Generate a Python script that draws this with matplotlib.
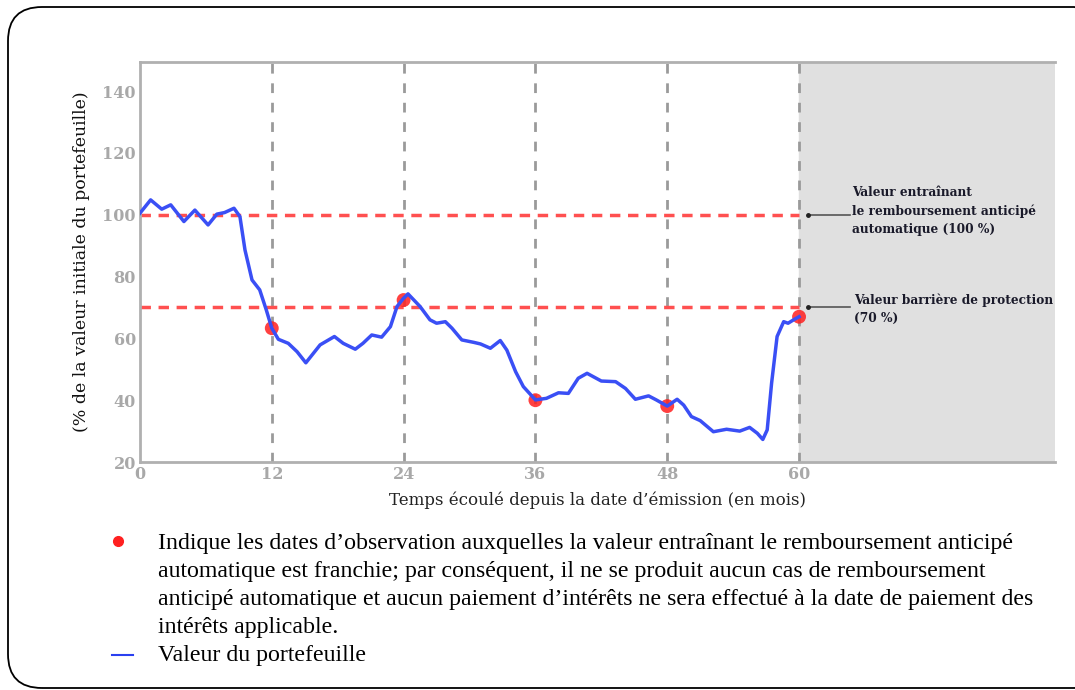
import numpy as np
import matplotlib.pyplot as plt
from matplotlib.patches import FancyBboxPatch
from matplotlib.lines import Line2D

# valeur du portefeuille
mois = [0, 0.97, 1.98, 2.8, 4.0, 5.0, 6.2, 7.0, 7.7, 8.56, 9.1, 9.56, 10.2, 10.9, 11.5,
        12.0, 12.6, 13.5, 14.3, 15.1, 16.4, 17.7, 18.5, 19.6, 20.3, 21.1, 22.0, 22.8,
        23.4, 24.0, 24.4, 25.5, 26.4, 27.0, 27.8, 28.4, 29.3, 30.4, 31.0, 31.9, 32.8,
        33.4, 34.2, 34.9, 36.0, 37.0, 38.1, 39.0, 39.9, 40.7, 42.0, 43.3, 44.2, 45.1,
        46.3, 47.0, 48.0, 48.9, 49.5, 50.2, 51.0, 52.2, 53.4, 54.6, 55.5, 56.2, 56.7,
        57.1, 57.5, 58.0, 58.6, 59.0, 59.5, 60.0]
valeur = [100.5, 104.8, 101.8, 103.2, 97.8, 101.5, 96.7, 100.2, 100.7, 102.1, 99.4, 88.6,
          78.9, 75.7, 69.2, 63.3, 59.7, 58.4, 55.7, 52.1, 57.9, 60.6, 58.4, 56.5, 58.4,
          61.1, 60.4, 63.8, 70.3, 73.0, 74.4, 70.3, 66.0, 64.9, 65.4, 63.3, 59.5, 58.7,
          58.2, 56.8, 59.3, 56.2, 49.2, 44.4, 40.1, 40.6, 42.4, 42.2, 47.1, 48.7, 46.2,
          46.0, 43.8, 40.3, 41.4, 40.1, 38.1, 40.3, 38.4, 34.7, 33.4, 29.8, 30.6, 30.0,
          31.2, 29.3, 27.3, 30.4, 45.5, 60.6, 65.4, 64.9, 66.0, 67.0]

# dates d'observation
obs_mois = [12, 24, 36, 48, 60]
obs_val = [63.3, 72.4, 40.0, 38.1, 67.0]

seuil_rembt = 100
barriere = 70

fig = plt.figure(figsize=(10.75, 6.9), dpi=100)

# cadre arrondi (en pixels)
cadre = FancyBboxPatch((8, 2), 1100, 681, boxstyle="round,pad=0,rounding_size=34",
                       transform=None, fill=False, ec="black", lw=1.3)
fig.patches.append(cadre)

ax = fig.add_axes([0.1302, 0.3304, 0.8512, 0.5797])
ax.set_xlim(0, 83.3)
ax.set_ylim(20, 149.4)

ax.axvspan(60, 83.3, color="#e0e0e0", zorder=0)

for m in obs_mois:
    ax.axvline(m, color="#9a9a9a", ls=(0, (3.5, 3.5)), lw=2, zorder=1)

ax.plot([0, 60], [seuil_rembt, seuil_rembt], color="#ff5050", ls=(0, (3, 2.2)), lw=2.5, zorder=2)
ax.plot([0, 60], [barriere, barriere], color="#ff5050", ls=(0, (3, 2.2)), lw=2.5, zorder=2)

ax.scatter(obs_mois, obs_val, s=100, color="#ff2020", alpha=0.85, zorder=3, edgecolors="none")
ax.plot(mois, valeur, color="#3a4ff5", lw=2.5, zorder=4, solid_joinstyle="round")

for s in ["top", "left", "bottom"]:
    ax.spines[s].set_color("#b0b0b0")
    ax.spines[s].set_linewidth(2)
ax.spines["right"].set_visible(False)

ax.set_xticks([0, 12, 24, 36, 48, 60])
ax.set_yticks([20, 40, 60, 80, 100, 120, 140])
ax.tick_params(length=0, pad=3, labelcolor="#a8a8a8", labelsize=11.5)
for lab in ax.get_xticklabels() + ax.get_yticklabels():
    lab.set_family("DejaVu Serif")
    lab.set_fontweight("bold")

ax.set_xlabel("Temps écoulé depuis la date d’émission (en mois)", family="DejaVu Serif",
              fontsize=12, color="#222222", labelpad=6)
ax.set_ylabel("(% de la valeur initiale du portefeuille)", family="DejaVu Serif",
              fontsize=12.5, color="#111111", labelpad=9)

# annotations
for yv, txt, tx, ty in [(seuil_rembt, "Valeur entraînant\nle remboursement anticipé\nautomatique (100 %)", 64.8, 109.3),
                        (barriere, "Valeur barrière de protection\n(70 %)", 65.0, 74.6)]:
    ax.plot([60.8, 64.6], [yv, yv], color="#555555", lw=1.2, zorder=5, clip_on=False)
    ax.plot([60.8], [yv], "o", color="#222222", ms=2.5, zorder=6)
    ax.text(tx, ty, txt, family="DejaVu Serif", fontweight="bold",
            fontsize=8.7, color="#1a1a2a", va="top", ha="left", linespacing=1.5)

# légende
fig.add_artist(Line2D([118 / 1075], [1 - 541 / 690], marker="o", color="#ff2020", ms=7,
                      transform=fig.transFigure))
fig.add_artist(Line2D([112 / 1075, 133 / 1075], [1 - 655 / 690, 1 - 655 / 690], color="#2a40f0",
                      lw=1.5, transform=fig.transFigure))
legende = ("Indique les dates d’observation auxquelles la valeur entraînant le remboursement anticipé\n"
           "automatique est franchie; par conséquent, il ne se produit aucun cas de remboursement\n"
           "anticipé automatique et aucun paiement d’intérêts ne sera effectué à la date de paiement des\n"
           "intérêts applicable.\n"
           "Valeur du portefeuille")
fig.text(158 / 1075, 1 - 533 / 690, legende, family="Liberation Serif", fontsize=17.2,
         color="black", va="top", ha="left", linespacing=1.44)

fig.savefig("out.png", dpi=100)
